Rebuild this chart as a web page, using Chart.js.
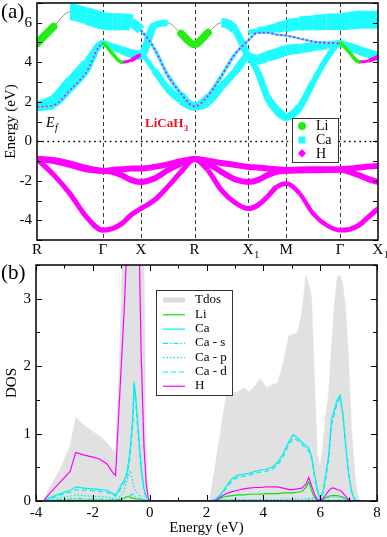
<!DOCTYPE html>
<html><head><meta charset="utf-8">
<script src="https://cdn.jsdelivr.net/npm/chart.js@4.4.1/dist/chart.umd.min.js"></script>
<style>
html,body{margin:0;padding:0;background:#fff;width:387px;height:537px;overflow:hidden}
#wa{position:absolute;left:0;top:0;width:387px;height:258px}
#wb{position:absolute;left:0;top:258px;width:387px;height:279px}
canvas{display:block}
</style></head>
<body>
<div id="wa"><canvas id="ca" width="387" height="258"></canvas></div>
<div id="wb"><canvas id="cb" width="387" height="279"></canvas></div>
<script>
// ---------------- Band structure data (panel a) ----------------
const kPoints = [0, 0.217, 0.433, 0.650, 0.866, 0.991, 1.116, 1.241, 1.366, 1.543, 1.719, 1.896, 2.073, 2.250, 2.426, 2.603, 2.780, 2.905, 3.030, 3.155, 3.280, 3.457, 3.633, 3.810, 3.987, 4.112, 4.237, 4.362, 4.487];
const kTicks = [0, 0.866, 1.366, 2.073, 2.780, 3.280, 3.987, 4.487];
const kLabels = ['R', 'Γ', 'X', 'R', 'X_1', 'M', 'Γ', 'X_1'];
const bandYTicks = [-4, -2, 0, 2, 4, 6];

// valence bands (H character)
const V1 = [-0.9, -1.69, -2.65, -3.83, -4.5, -4.42, -4.17, -3.72, -3.41, -2.99, -2.31, -1.55, -0.9, -1.47, -2.48, -3.10, -3.41, -3.24, -2.82, -2.31, -2.14, -2.65, -3.66, -4.25, -4.5, -4.46, -4.25, -3.83, -3.41];
const V2 = [-0.9, -1.0, -1.2, -1.42, -1.5, -1.55, -1.72, -1.97, -2.06, -1.89, -1.47, -1.13, -0.9, -1.13, -1.55, -1.92, -2.06, -1.97, -1.72, -1.55, -1.5, -1.48, -1.47, -1.46, -1.45, -1.55, -1.72, -1.92, -2.06];
const V3 = [-0.9, -0.95, -1.12, -1.35, -1.5, -1.45, -1.42, -1.38, -1.38, -1.3, -1.17, -1.0, -0.9, -0.98, -1.1, -1.2, -1.3, -1.33, -1.38, -1.42, -1.45, -1.43, -1.42, -1.42, -1.42, -1.38, -1.33, -1.28, -1.25];
// conduction bands
const C1 = [1.75, 2.1, 3.05, 3.97, 4.95, 4.78, 4.61, 4.44, 4.35, 5.85, 6.0, 5.45, 4.9, 5.5, 6.0, 5.65, 4.3, 3.51, 2.24, 1.57, 1.23, 1.74, 2.99, 4.17, 4.95, 4.78, 4.61, 4.44, 4.27];
const C2 = [1.75, 1.82, 2.58, 3.51, 4.95, 4.44, 4.0, 4.1, 4.35, 3.59, 2.67, 2.08, 1.77, 1.99, 2.75, 3.51, 4.27, 4.13, 4.3, 4.44, 4.61, 4.69, 4.78, 4.86, 4.95, 4.49, 4.02, 4.07, 4.27];
const T1 = [4.95, 5.8, 6.55, 6.35, 6.1, 6.05, 6.05, 6.0, 5.62, 4.7, 3.35, 2.4, 1.77, 2.3, 3.3, 4.4, 5.1, 5.5, 5.5, 5.4, 5.35, 5.2, 5.05, 4.98, 4.95, 4.9, 4.7, 4.5, 4.3];
const U1 = [null, null, null, null, null, null, null, null, null, null, null, null, null, null, null, null, 5.5, 5.6, 5.65, 5.75, 5.85, 5.95, 6.0, 6.05, 6.05, 6.1, 6.15, 6.15, 6.15];

// projected weights (fat-band character, 0..1)
const wH_V1 = [0.3, 0.28, 0.28, 0.28, 0.28, 0.28, 0.28, 0.28, 0.28, 0.28, 0.28, 0.28, 0.3, 0.28, 0.28, 0.28, 0.28, 0.28, 0.28, 0.27, 0.26, 0.24, 0.24, 0.24, 0.26, 0.28, 0.28, 0.28, 0.28];
const wH_V2 = [0.34, 0.33, 0.33, 0.33, 0.33, 0.33, 0.33, 0.33, 0.33, 0.33, 0.33, 0.33, 0.34, 0.33, 0.33, 0.33, 0.33, 0.33, 0.33, 0.33, 0.33, 0.33, 0.33, 0.33, 0.33, 0.33, 0.33, 0.33, 0.33];
const wH_V3 = [0.34, 0.33, 0.33, 0.33, 0.33, 0.33, 0.33, 0.33, 0.33, 0.33, 0.33, 0.33, 0.34, 0.33, 0.33, 0.33, 0.33, 0.33, 0.33, 0.33, 0.33, 0.33, 0.33, 0.33, 0.33, 0.33, 0.33, 0.33, 0.33];
const wCa_C1 = [0.6, 0.55, 0.5, 0.45, 0.35, 0.4, 0.45, 0.5, 0.55, 0.35, 0.4, 0, 0, 0, 0.6, 0.45, 0.35, 0.35, 0.4, 0.45, 0.5, 0.4, 0.35, 0.3, 0.35, 0.45, 0.5, 0.5, 0.55];
const wLi_C1 = [0, 0, 0, 0, 0, 0, 0, 0, 0, 0, 0, 0.4, 0.45, 0.4, 0, 0, 0, 0, 0, 0, 0, 0, 0, 0, 0, 0, 0, 0, 0];
const wCa_C2 = [0.6, 0.3, 0.28, 0.28, 0.3, 0, 0, 0, 0.2, 0.35, 0.38, 0.45, 0.55, 0.45, 0.4, 0.4, 0.45, 0.55, 0.6, 0.6, 0.6, 0.55, 0.5, 0.45, 0.35, 0, 0, 0, 0.2];
const wLi_C2 = [0, 0, 0, 0, 0.2, 0.2, 0.2, 0, 0, 0, 0, 0, 0, 0, 0, 0, 0, 0, 0, 0, 0, 0, 0, 0, 0.2, 0.2, 0.2, 0, 0];
const wH_C2 = [0.08, 0.08, 0.08, 0.08, 0.08, 0, 0.12, 0.22, 0.22, 0, 0, 0, 0, 0, 0, 0, 0, 0, 0, 0, 0, 0, 0, 0, 0, 0, 0.12, 0.22, 0.22];
const wCa_T1 = [0, 0, 0.9, 0.95, 1.0, 0.95, 0.95, 0.9, 0.15, 0.18, 0.2, 0.25, 0.45, 0.25, 0.2, 0.18, 0.15, 0.12, 0.12, 0.12, 0.12, 0.12, 0.12, 0.12, 0.15, 0.15, 0.15, 0.15, 0.15];
const wLi_T1 = [0.45, 0.42, 0, 0, 0, 0, 0, 0, 0, 0, 0, 0, 0, 0, 0, 0, 0, 0, 0, 0, 0, 0, 0, 0, 0, 0, 0, 0, 0];
const wH_T1 = [0, 0, 0, 0, 0, 0, 0, 0, 0.1, 0.1, 0.1, 0.1, 0.1, 0.1, 0.1, 0.1, 0.1, 0.1, 0.1, 0.1, 0.1, 0.1, 0.1, 0.1, 0.1, 0, 0, 0, 0];
const wCa_U1 = [0, 0, 0, 0, 0, 0, 0, 0, 0, 0, 0, 0, 0, 0, 0, 0, 0.2, 0.35, 0.45, 0.55, 0.65, 0.75, 0.85, 0.9, 0.95, 1.0, 1.0, 1.0, 1.0];

// ---------------- DOS data (panel b) ----------------
const dosE = [-4.0, -3.74, -3.5, -3.15, -2.8, -2.6, -2.3, -2.0, -1.75, -1.5, -1.3, -1.2, -1.1, -1.0, -0.9, -0.8, -0.7, -0.6, -0.55, -0.5, -0.4, -0.3, -0.2, -0.12, -0.05, 0.0,
  2.1,
  2.3, 2.5, 2.7, 2.9, 3.1, 3.3, 3.5, 3.7, 3.9, 4.1, 4.3, 4.5, 4.7, 4.9, 5.05, 5.2, 5.35, 5.5, 5.6, 5.7, 5.8, 5.9, 6.0, 6.1, 6.2, 6.3, 6.4, 6.5, 6.6, 6.7, 6.8, 6.9, 7.0, 7.1, 7.2, 7.3, 7.4, 8.0];
const dosTotal = [0, 0, 0.22, 0.47, 0.82, 1.24, 1.12, 1.03, 0.96, 0.86, 0.76, 0.72, 1.7, 3.0, 4.5, 5.5, 6.0, 6.0, 6.0, 5.8, 5.5, 4.5, 3.6, 0.45, 0.1, 0,
  0,
  0.5, 1.05, 1.6, 1.6, 1.62, 1.68, 1.62, 1.7, 1.82, 1.68, 1.72, 1.75, 2.05, 2.45, 2.47, 2.5, 2.78, 3.35, 3.2, 3.0, 1.8, 0.7, 0.5, 0.85, 1.3, 1.6, 2.3, 2.9, 3.33, 3.35, 3.2, 2.85, 2.1, 1.1, 0.5, 0.12, 0, 0];
const dosLi = [0, 0, 0.005, 0.01, 0.01, 0.01, 0.01, 0.01, 0.01, 0.01, 0.01, 0.01, 0.02, 0.02, 0.04, 0.07, 0.06, 0.04, 0.04, 0.03, 0.03, 0.02, 0.01, 0.005, 0, 0,
  0,
  0, 0.04, 0.07, 0.08, 0.09, 0.09, 0.1, 0.1, 0.1, 0.11, 0.11, 0.11, 0.12, 0.12, 0.12, 0.13, 0.14, 0.2, 0.28, 0.15, 0.05, 0.01, 0, 0.02, 0.05, 0.07, 0.08, 0.08, 0.08, 0.07, 0.06, 0.03, 0.01, 0, 0, 0, 0, 0];
const dosCa = [0, 0, 0.05, 0.11, 0.16, 0.21, 0.19, 0.18, 0.17, 0.16, 0.11, 0.09, 0.15, 0.24, 0.3, 0.42, 0.7, 1.2, 1.77, 1.6, 1.05, 0.5, 0.18, 0.06, 0.01, 0,
  0,
  0.02, 0.1, 0.22, 0.33, 0.38, 0.4, 0.41, 0.44, 0.46, 0.47, 0.5, 0.57, 0.7, 0.88, 0.98, 0.94, 0.87, 0.82, 0.78, 0.66, 0.4, 0.18, 0.03, 0.14, 0.4, 0.68, 1.2, 1.35, 1.5, 1.57, 1.28, 0.8, 0.4, 0.15, 0.03, 0, 0, 0];
const dosCaS = [0, 0, 0.01, 0.02, 0.03, 0.04, 0.03, 0.03, 0.03, 0.03, 0.02, 0.01, 0.02, 0.03, 0.04, 0.06, 0.08, 0.1, 0.09, 0.06, 0.04, 0.02, 0.01, 0, 0, 0,
  0,
  0, 0.01, 0.01, 0.01, 0.01, 0.01, 0.01, 0.01, 0.01, 0.01, 0.01, 0.01, 0.01, 0.01, 0.01, 0.01, 0.01, 0.01, 0.02, 0.01, 0.01, 0, 0, 0.01, 0.01, 0.01, 0.01, 0.01, 0.01, 0.01, 0.01, 0.01, 0.01, 0, 0, 0, 0, 0];
const dosCaP = [0, 0, 0.02, 0.05, 0.07, 0.09, 0.08, 0.07, 0.07, 0.06, 0.04, 0.03, 0.05, 0.08, 0.15, 0.3, 0.45, 0.3, 0.2, 0.15, 0.1, 0.05, 0.02, 0.01, 0, 0,
  0,
  0, 0.01, 0.02, 0.02, 0.02, 0.02, 0.02, 0.02, 0.02, 0.02, 0.02, 0.02, 0.03, 0.03, 0.03, 0.03, 0.03, 0.04, 0.04, 0.04, 0.03, 0.02, 0.01, 0.02, 0.04, 0.05, 0.06, 0.06, 0.05, 0.05, 0.04, 0.03, 0.02, 0.01, 0, 0, 0, 0];
const dosCaD = [0, 0, 0.04, 0.09, 0.13, 0.17, 0.16, 0.15, 0.14, 0.13, 0.09, 0.07, 0.12, 0.2, 0.26, 0.36, 0.62, 1.1, 1.65, 1.5, 0.95, 0.45, 0.16, 0.05, 0.01, 0,
  0,
  0.01, 0.08, 0.19, 0.3, 0.35, 0.37, 0.38, 0.41, 0.43, 0.44, 0.47, 0.53, 0.66, 0.84, 0.93, 0.9, 0.84, 0.78, 0.74, 0.62, 0.37, 0.15, 0.02, 0.11, 0.35, 0.62, 1.12, 1.3, 1.45, 1.52, 1.3, 0.85, 0.42, 0.15, 0.03, 0, 0, 0];
const dosH = [0, 0, 0.12, 0.28, 0.44, 0.72, 0.68, 0.65, 0.62, 0.55, 0.42, 0.38, 1.2, 2.0, 2.8, 3.8, 5.0, 5.5, 5.5, 5.3, 4.5, 2.2, 0.8, 0.25, 0.05, 0,
  0,
  0, 0.06, 0.11, 0.14, 0.16, 0.18, 0.19, 0.2, 0.2, 0.21, 0.21, 0.21, 0.19, 0.17, 0.17, 0.18, 0.19, 0.25, 0.35, 0.22, 0.1, 0.02, 0.01, 0.04, 0.09, 0.15, 0.19, 0.19, 0.17, 0.16, 0.12, 0.07, 0.02, 0, 0, 0, 0, 0];
const dosXTicks = [-4, -2, 0, 2, 4, 6, 8];
const dosYTicks = [0, 1, 2, 3];

// ---------------- styling ----------------
const SERIF = '"Liberation Serif", "Times New Roman", serif';
const FAT = 18;
const CYAN = '#1ffcff', MAG = '#ff00ff', GRN = '#22ee11';

function segW(w, i, j) { const a = w[i], b = w[j]; if (!a || !b) return 0; return (a + b) / 2 * FAT; }

function fat(E, w, color, order, opts) {
  opts = opts || {};
  const idx = [];
  E.forEach((v, i) => { if (v !== null) idx.push(i); });
  const ww = idx.map(i => w[i]);
  return {
    data: idx.map(i => ({ x: kPoints[i], y: E[i] })),
    borderColor: color, borderWidth: 1, pointRadius: 0, clip: 0, order: order,
    cubicInterpolationMode: 'monotone', borderCapStyle: opts.cap || 'butt', borderJoinStyle: 'round',
    segment: {
      borderWidth: c => Math.max(segW(ww, c.p0DataIndex, c.p1DataIndex), 0.5),
      borderColor: c => segW(ww, c.p0DataIndex, c.p1DataIndex) > 0 ? color : 'rgba(0,0,0,0)',
      borderDash: c => (opts.dots && segW(ww, c.p0DataIndex, c.p1DataIndex) < 0.15 * FAT) ? [2, 2.4] : []
    }
  };
}
function thin(E) {
  const idx = [];
  E.forEach((v, i) => { if (v !== null) idx.push(i); });
  return { data: idx.map(i => ({ x: kPoints[i], y: E[i] })), borderColor: '#7a7a7a', borderWidth: 0.8,
    pointRadius: 0, clip: 0, order: 9, cubicInterpolationMode: 'monotone' };
}

const bandDatasets = [
  thin(V1), thin(V2), thin(V3), thin(C1), thin(C2), thin(T1), thin(U1),
  fat(U1, wCa_U1, CYAN, 6), fat(T1, wCa_T1, CYAN, 6), fat(C1, wCa_C1, CYAN, 6), fat(C2, wCa_C2, CYAN, 6),
  fat(V1, wH_V1, MAG, 4), fat(V2, wH_V2, MAG, 4), fat(V3, wH_V3, MAG, 4),
  fat(C2, wH_C2, MAG, 3, { dots: true }), fat(T1, wH_T1, MAG, 3, { dots: true }),
  fat(C1, wLi_C1, GRN, 1, { cap: 'round' }), fat(C2, wLi_C2, GRN, 1, { cap: 'round' }), fat(T1, wLi_T1, GRN, 1, { cap: 'round' })
];

function line(ctx, x1, y1, x2, y2) { ctx.beginPath(); ctx.moveTo(x1, y1); ctx.lineTo(x2, y2); ctx.stroke(); }
function subText(ctx, label, cx, cy, size, sub, centerMain) {
  const parts = label.split('_');
  ctx.font = size + 'px ' + SERIF;
  const w1 = ctx.measureText(parts[0]).width;
  const x0 = cx - w1 / 2;
  ctx.textAlign = 'left'; ctx.textBaseline = 'middle';
  ctx.fillText(parts[0], x0, cy);
  if (parts[1]) { ctx.font = sub + 'px ' + SERIF; ctx.fillText(parts[1], x0 + w1 + 0.5, cy + size * 0.35); }
}

const bandDeco = {
  id: 'bandDeco',
  beforeDatasetsDraw(chart) {
    const { ctx, chartArea: a, scales: { x, y } } = chart;
    ctx.save();
    ctx.strokeStyle = '#3a3a3a'; ctx.lineWidth = 1; ctx.setLineDash([4, 3]);
    kTicks.slice(1, -1).forEach(k => { const px = Math.round(x.getPixelForValue(k)) + 0.5; line(ctx, px, a.top, px, a.bottom); });
    ctx.strokeStyle = '#000'; ctx.lineWidth = 1.6; ctx.setLineDash([1.6, 3.6]);
    const py = Math.round(y.getPixelForValue(0)) + 0.5; line(ctx, a.left, py, a.right, py);
    ctx.restore();
  },
  afterDatasetsDraw(chart) {
    const { ctx, chartArea: a, scales: { x, y } } = chart;
    ctx.save();
    ctx.strokeStyle = '#000'; ctx.lineWidth = 1;
    for (let v = Math.ceil(y.min); v <= y.max; v++) {
      const py = Math.round(y.getPixelForValue(v)) + 0.5;
      line(ctx, a.left, py, a.left + 5, py); line(ctx, a.right - 5, py, a.right, py);
    }
    ctx.lineWidth = 1.5; ctx.strokeRect(a.left, a.top, a.right - a.left, a.bottom - a.top);
    ctx.fillStyle = '#000';
    ctx.font = '15px ' + SERIF; ctx.textAlign = 'right'; ctx.textBaseline = 'middle';
    bandYTicks.forEach(v => ctx.fillText(String(v), a.left - 5, y.getPixelForValue(v)));
    kTicks.forEach((k, i) => subText(ctx, kLabels[i], x.getPixelForValue(k), a.bottom + 10, 15, 10));
    // axis title
    ctx.save(); ctx.translate(11, (a.top + a.bottom) / 2); ctx.rotate(-Math.PI / 2);
    ctx.font = '15px ' + SERIF; ctx.textAlign = 'center'; ctx.textBaseline = 'middle';
    ctx.fillText('Energy (eV)', 0, 0); ctx.restore();
    // panel label
    ctx.font = '21px ' + SERIF; ctx.textAlign = 'left'; ctx.textBaseline = 'middle';
    ctx.fillText('(a)', 1, 12);
    // E_f
    ctx.font = 'italic 14px ' + SERIF; ctx.textBaseline = 'alphabetic';
    ctx.fillText('E', 46, 127);
    ctx.font = 'italic 10px ' + SERIF; ctx.fillText('f', 55, 131);
    // compound name
    ctx.fillStyle = '#ee1122'; ctx.font = 'bold 13px ' + SERIF;
    ctx.fillText('LiCaH', 145, 127);
    const wn = ctx.measureText('LiCaH').width;
    ctx.font = 'bold 9px ' + SERIF; ctx.fillText('3', 145 + wn + 0.5, 131);
    // legend
    ctx.fillStyle = '#fff'; ctx.fillRect(292, 118, 47, 45);
    ctx.strokeStyle = '#333'; ctx.lineWidth = 1; ctx.strokeRect(292.5, 118.5, 46, 44);
    ctx.fillStyle = GRN; ctx.beginPath(); ctx.arc(302, 126, 4, 0, Math.PI * 2); ctx.fill();
    ctx.fillStyle = CYAN; ctx.fillRect(298.5, 136.5, 7, 7);
    ctx.fillStyle = MAG; ctx.beginPath(); ctx.moveTo(302, 149); ctx.lineTo(306, 153.3); ctx.lineTo(302, 157.6); ctx.lineTo(298, 153.3); ctx.closePath(); ctx.fill();
    ctx.fillStyle = '#000'; ctx.font = '14px ' + SERIF; ctx.textBaseline = 'middle';
    ctx.fillText('Li', 316, 126.5); ctx.fillText('Ca', 316, 140.5); ctx.fillText('H', 316, 154);
    ctx.restore();
  }
};

new Chart(document.getElementById('ca'), {
  type: 'line',
  data: { datasets: bandDatasets },
  options: {
    responsive: false, animation: false, devicePixelRatio: 1, events: [],
    layout: { padding: { left: 37, right: 9, top: 3, bottom: 18 } },
    scales: {
      x: { type: 'linear', min: kPoints[0], max: kPoints[kPoints.length - 1], display: false },
      y: { type: 'linear', min: -5, max: 7, display: false }
    },
    plugins: { legend: { display: false }, tooltip: { enabled: false } }
  },
  plugins: [bandDeco]
});

// ---------------- DOS chart ----------------
const dosStyle = [
  { label: 'Tdos', y: dosTotal, color: '#e1e1e1', dash: [], w: 0 },
  { label: 'Li', y: dosLi, color: '#11dd11', dash: [], w: 1.2 },
  { label: 'Ca', y: dosCa, color: '#00eef2', dash: [], w: 1.2 },
  { label: 'Ca - s', y: dosCaS, color: '#00eef2', dash: [5, 2, 1.5, 2], w: 1.2 },
  { label: 'Ca - p', y: dosCaP, color: '#00eef2', dash: [1.5, 2], w: 1.2 },
  { label: 'Ca - d', y: dosCaD, color: '#00eef2', dash: [5, 3], w: 1.2 },
  { label: 'H', y: dosH, color: '#ff00ff', dash: [], w: 1.2 }
];
const dosDatasets = dosStyle.map((s, i) => {
  const ds = {
    label: s.label, data: dosE.map((e, j) => ({ x: e, y: s.y[j] })),
    borderColor: s.color, borderWidth: s.w || 0.5, borderDash: s.dash, pointRadius: 0,
    tension: 0, clip: 0, order: 10 - i
  };
  if (i === 0) { ds.fill = 'origin'; ds.backgroundColor = s.color; ds.order = 20; }
  return ds;
});

const dosDeco = {
  id: 'dosDeco',
  afterDatasetsDraw(chart) {
    const { ctx, chartArea: a, scales: { x, y } } = chart;
    ctx.save();
    ctx.strokeStyle = '#000'; ctx.lineWidth = 1;
    for (let v = x.min; v <= x.max; v++) {
      const px = Math.round(x.getPixelForValue(v)) + 0.5;
      const L = (v % 2 === 0) ? 6 : 3.5;
      line(ctx, px, a.bottom, px, a.bottom - L); line(ctx, px, a.top, px, a.top + L);
    }
    for (let v = 0; v <= y.max + 1e-9; v += 0.5) {
      const py = Math.round(y.getPixelForValue(v)) + 0.5;
      const L = (Math.abs(v - Math.round(v)) < 1e-9) ? 6 : 4;
      line(ctx, a.left, py, a.left + L, py); line(ctx, a.right - L, py, a.right, py);
    }
    ctx.lineWidth = 1.5; ctx.strokeRect(a.left, a.top, a.right - a.left, a.bottom - a.top);
    ctx.fillStyle = '#000'; ctx.font = '15px ' + SERIF;
    ctx.textAlign = 'right'; ctx.textBaseline = 'middle';
    dosYTicks.forEach(v => ctx.fillText(String(v), a.left - 5, y.getPixelForValue(v)));
    ctx.textAlign = 'center';
    dosXTicks.forEach(v => ctx.fillText(String(v), x.getPixelForValue(v), a.bottom + 12));
    ctx.fillText('Energy (eV)', (a.left + a.right) / 2, a.bottom + 27);
    ctx.save(); ctx.translate(12, 125); ctx.rotate(-Math.PI / 2);
    ctx.fillText('DOS', 0, 0); ctx.restore();
    ctx.font = '21px ' + SERIF; ctx.textAlign = 'left';
    ctx.fillText('(b)', 1, 15);
    // legend
    const bx = 156, by = 32;
    ctx.fillStyle = '#fff'; ctx.fillRect(bx, by, 76, 105);
    ctx.strokeStyle = '#333'; ctx.lineWidth = 1; ctx.strokeRect(bx + 0.5, by + 0.5, 76, 105);
    ctx.font = '13px ' + SERIF; ctx.textBaseline = 'middle';
    dosStyle.forEach((s, i) => {
      const yy = by + 10 + i * 14.3;
      if (i === 0) { ctx.fillStyle = '#dcdcdc'; ctx.fillRect(bx + 7, yy - 2.5, 22, 5); }
      else {
        ctx.strokeStyle = s.color; ctx.lineWidth = 1.2; ctx.setLineDash(s.dash);
        line(ctx, bx + 7, yy + 0.5, bx + 29, yy + 0.5); ctx.setLineDash([]);
      }
      ctx.fillStyle = '#000'; ctx.fillText(s.label, bx + 39, yy);
    });
    ctx.restore();
  }
};

new Chart(document.getElementById('cb'), {
  type: 'line',
  data: { datasets: dosDatasets },
  options: {
    responsive: false, animation: false, devicePixelRatio: 1, events: [],
    layout: { padding: { left: 36, right: 10, top: 7, bottom: 36 } },
    scales: {
      x: { type: 'linear', min: -4, max: 8, display: false },
      y: { type: 'linear', min: 0, max: 3.5, display: false }
    },
    plugins: { legend: { display: false }, tooltip: { enabled: false } }
  },
  plugins: [dosDeco]
});
</script>
</body></html>
